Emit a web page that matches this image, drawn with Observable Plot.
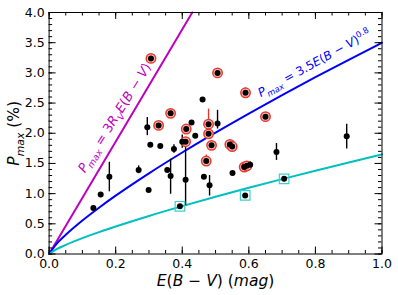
<!DOCTYPE html>
<html><head><meta charset="utf-8">
<script src="https://cdn.jsdelivr.net/npm/d3@7"></script>
<script src="https://cdn.jsdelivr.net/npm/@observablehq/plot@0.6"></script>
<style>body{margin:0;background:#fff}</style>
</head><body><div id="chart"></div>
<script>
// Observed stars: E(B-V), Pmax, error bar low/high (null = none), marker group
const ebv  = [0.133,0.155,0.181,0.269,0.295,0.299,0.304,0.334,0.355,0.365,0.375,0.400,0.410,0.428,0.439,0.461,0.465,0.482,0.506,0.551,0.604,0.683,0.894,
              0.306,0.329,0.365,0.412,0.410,0.479,0.479,0.488,0.472,0.506,0.543,0.550,0.586,0.594,0.590,0.650,
              0.393,0.589,0.706];
const pmax = [0.76,0.985,1.28,1.39,2.10,1.06,1.81,1.79,1.39,1.29,1.74,1.86,1.23,2.18,1.96,2.56,1.28,1.14,2.16,1.34,1.48,1.69,1.95,
              3.24,2.13,2.33,2.07,1.86,2.15,1.99,1.80,1.54,3.00,1.815,1.78,1.44,1.46,2.67,2.275,
              0.79,0.97,1.245];
const errLow  = [null,null,1.03,1.33,1.96,null,null,null,null,0.99,1.67,1.75,0.80,null,null,null,null,0.96,2.07,null,1.43,1.55,1.74,
                 null,null,null,null,null,1.95,null,null,1.45,null,null,null,null,null,2.60,null,
                 null,null,null];
const errHigh = [null,null,1.52,1.46,2.26,null,null,null,null,1.57,1.81,1.97,1.80,null,null,null,null,1.30,2.38,null,1.53,1.83,2.15,
                 null,null,null,null,null,2.40,null,null,1.64,null,null,null,null,null,2.75,null,
                 null,null,null];
const group = [...Array(23).fill("plain"), ...Array(16).fill("ring"), ...Array(3).fill("square")];

// Model curves
const curveE    = [0,0.02,0.05,0.1,0.15,0.2,0.3,0.4,0.5,0.6,0.7,0.8,0.9,1.0];
const bluePmax  = [0,0.153,0.318,0.555,0.767,0.966,1.336,1.681,2.010,2.326,2.631,2.928,3.217,3.5];
const cyanPmax  = [0,0.072,0.150,0.262,0.362,0.455,0.630,0.793,0.948,1.096,1.240,1.380,1.517,1.65];
const magentaE  = [0,0.43];
const magentaP  = [0,4.0];

// Ticks
const xMajor = [0,0.2,0.4,0.6,0.8,1.0];
const xMinor = d3.range(0,1.0001,0.05).map(v=>+v.toFixed(2));
const yMajor = [0,0.5,1,1.5,2,2.5,3,3.5,4];
const yMinor = d3.range(0,4.0001,0.1).map(v=>+v.toFixed(1));

const pts = ebv.map((x,i)=>({x, y:pmax[i], lo:errLow[i], hi:errHigh[i], g:group[i]}));
const errs = pts.filter(d=>d.lo!=null);
const blue = curveE.map((x,i)=>({x,y:bluePmax[i]}));
const cyan = curveE.map((x,i)=>({x,y:cyanPmax[i]}));
const mag  = magentaE.map((x,i)=>({x,y:magentaP[i]}));

const W = 398, H = 295, mL = 48.6, mR = 16.5, mT = 12, mB = 41.5;
const pw = W-mL-mR, ph = H-mT-mB;
const fs = 12.5;
const fMag = 13, fBlue = 12;

const chart = Plot.plot({
  width: W, height: H,
  marginLeft: mL, marginRight: mR, marginTop: mT, marginBottom: mB,
  style: {fontFamily: "DejaVu Sans", fontSize: fs+"px", color: "black", background: "white"},
  x: {domain: [0,1], label: null},
  y: {domain: [0,4], label: null},
  marks: [
    Plot.line(mag, {x:"x", y:"y", stroke:"#bf00bf", strokeWidth:2}),
    Plot.line(blue, {x:"x", y:"y", stroke:"#0000ff", strokeWidth:2, curve:"monotone-x"}),
    Plot.line(cyan, {x:"x", y:"y", stroke:"#00bfbf", strokeWidth:2, curve:"monotone-x"}),
    Plot.ruleX(errs, {x:"x", y1:"lo", y2:"hi", stroke:d=>d.g==="ring"?"#e03a30":"black", strokeWidth:1.4}),
    Plot.dot(pts.filter(d=>d.g==="ring"), {x:"x", y:"y", r:4.7, fill:"#f7c0bb", stroke:"#e8392e", strokeWidth:1.5}),
    Plot.dot(pts.filter(d=>d.g==="square"), {x:"x", y:"y", r:5.4, symbol:"square", fill:"none", stroke:"#3fcfcf", strokeWidth:1.2}),
    Plot.dot(pts, {x:"x", y:"y", r:3, fill:"black"}),
    // ticks (inward, all four sides)
    Plot.tickX(xMajor, {x:d=>d, insetTop: ph-7, stroke:"black"}),
    Plot.tickX(xMajor, {x:d=>d, insetBottom: ph-7, stroke:"black"}),
    Plot.tickX(xMinor, {x:d=>d, insetTop: ph-3.5, stroke:"black"}),
    Plot.tickX(xMinor, {x:d=>d, insetBottom: ph-3.5, stroke:"black"}),
    Plot.tickY(yMajor, {y:d=>d, insetRight: pw-7, stroke:"black"}),
    Plot.tickY(yMajor, {y:d=>d, insetLeft: pw-7, stroke:"black"}),
    Plot.tickY(yMinor, {y:d=>d, insetRight: pw-3.5, stroke:"black"}),
    Plot.tickY(yMinor, {y:d=>d, insetLeft: pw-3.5, stroke:"black"}),
    Plot.axisX({ticks: xMajor, tickSize: 0, tickPadding: 5, tickFormat: d3.format(".1f"), fontSize: fs, label: null}),
    Plot.axisY({ticks: yMajor, tickSize: 0, tickPadding: 4.5, tickFormat: d3.format(".1f"), fontSize: fs, label: null}),
    Plot.frame({stroke:"black", strokeWidth:1}),
    // curve labels
    Plot.text(["LBL_MAG"], {x:()=>0.197, y:()=>2.255, text:d=>d, rotate:-58, fill:"#bf00bf", fontSize:fMag, textAnchor:"middle", lineAnchor:"middle"}),
    Plot.text(["LBL_BLUE"], {x:()=>0.797, y:()=>3.16, text:d=>d, rotate:-29, fill:"#0000ff", fontSize:fBlue, textAnchor:"middle", lineAnchor:"middle"}),
    // axis labels
    Plot.text(["LBL_X"], {frameAnchor:"bottom", dy:27, text:d=>d, fontSize:15.5, textAnchor:"middle", lineAnchor:"middle"}),
    Plot.text(["LBL_Y"], {frameAnchor:"left", dx:-35, rotate:-90, text:d=>d, fontSize:15.5, textAnchor:"middle", lineAnchor:"middle"})
  ]
});

const NS = "http://www.w3.org/2000/svg";
function rich(el, parts, size) {
  el.textContent = "";
  let shift = 0;
  for (const p of parts) {
    const t = document.createElementNS(NS, "tspan");
    t.textContent = p.t;
    if (p.i) t.setAttribute("font-style", "italic");
    const target = p.sub ? size*0.3 : p.sup ? -size*0.4 : 0;
    if (target !== shift) { t.setAttribute("dy", (target - shift).toFixed(2)); shift = target; }
    if (p.sub || p.sup) t.setAttribute("font-size", (size*0.7).toFixed(2));
    el.appendChild(t);
  }
}
const labels = {
  LBL_MAG: [[{t:"P",i:1},{t:"max",i:1,sub:1},{t:" = 3"},{t:"R",i:1},{t:"V",i:1,sub:1},{t:"E",i:1},{t:"("},{t:"B",i:1},{t:" − "},{t:"V",i:1},{t:")"}], fMag],
  LBL_BLUE: [[{t:"P",i:1},{t:"max",i:1,sub:1},{t:" = 3.5"},{t:"E",i:1},{t:"("},{t:"B",i:1},{t:" − "},{t:"V",i:1},{t:")"},{t:"0.8",sup:1}], fBlue],
  LBL_X: [[{t:"E",i:1},{t:"("},{t:"B",i:1},{t:" − "},{t:"V",i:1},{t:") ("},{t:"mag",i:1},{t:")"}], 15.5],
  LBL_Y: [[{t:"P",i:1},{t:"max",i:1,sub:1},{t:" (%)"}], 15.5]
};
chart.querySelectorAll("text").forEach(el => {
  const k = el.textContent.trim();
  if (labels[k]) rich(el, labels[k][0], labels[k][1]);
});
document.getElementById("chart").appendChild(chart);
</script>
</body></html>
